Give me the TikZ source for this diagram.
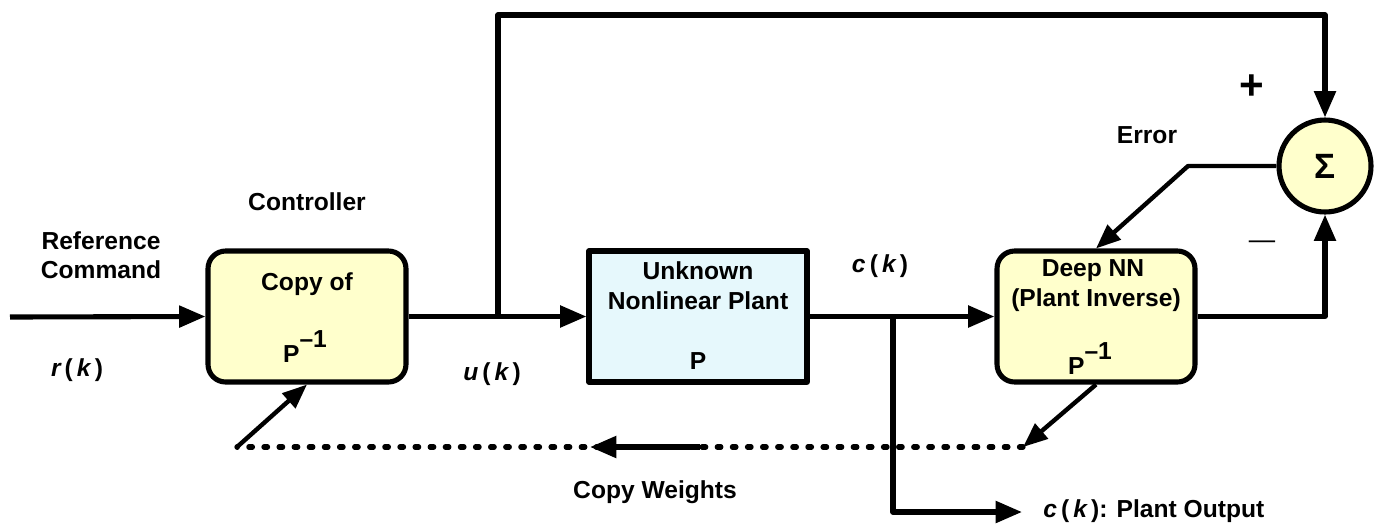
\documentclass[tikz,border=0pt]{standalone}
\usepackage{fontspec}
\setmainfont{Liberation Sans}
\usetikzlibrary{arrows.meta}
\definecolor{boxyellow}{HTML}{FFFFCC}
\definecolor{boxcyan}{HTML}{E6F8FC}
\begin{document}
\begin{tikzpicture}[x=0.02cm,y=-0.02cm,
  font=\fontsize{14}{16}\selectfont\bfseries,
  line join=round,
  wire/.style={line width=2.9pt},
  arr/.style={wire,-{Triangle[length=15pt,width=12pt]}},
  darr/.style={line width=2.5pt,-{Triangle[length=14pt,width=11pt]}},
  ybox/.style={draw,line width=2.9pt,fill=boxyellow,rounded corners=10pt,
    minimum width=3.96cm,minimum height=2.62cm,inner sep=0pt},
  cbox/.style={draw,line width=2.9pt,fill=boxcyan,
    minimum width=4.36cm,minimum height=2.62cm,inner sep=0pt},
  sumnode/.style={draw,circle,line width=2.9pt,fill=boxyellow,minimum size=1.84cm,inner sep=0pt},
  dots/.style={line width=3pt,line cap=round,dash pattern=on 2pt off 6.6pt},
  lbl/.style={anchor=base,inner sep=0pt}
]
\useasboundingbox (0,0) rectangle (1381,525);

% blocks
\node[ybox] (ctrl) at (307,316.5) {};
\node[cbox] (plant) at (698,316.5) {};
\node[ybox] (nn) at (1096,316.5) {};
\node[sumnode] (sum) at (1325,166) {};
\node (sig) at (sum.center) {\fontsize{20}{22}\selectfont Σ};

% coordinates
\coordinate (in) at (10,317);
\coordinate (j1) at (498,317);
\coordinate (tl) at (498,15);
\coordinate (tr) at (1325,15);
\coordinate (j2) at (893,317);
\coordinate (jb) at (893,512);
\coordinate (out) at (1022,512);
\coordinate (ec) at (1188,166);
\coordinate (dR) at (1023,447);
\coordinate (dL) at (237,447);
\coordinate (cwA) at (700,447);
\coordinate (cwB) at (590,447);

% connectors
\draw[arr] (in) -- (ctrl.west);
\draw[arr] (ctrl.east) -- (plant.west);
\draw[arr] (j1) -- (tl) -- (tr) -- (sum.north);
\draw[arr] (plant.east) -- (nn.west);
\draw[arr] (j2) -- (jb) -- (out);
\draw[arr] (nn.east) -| (sum.south);
\draw[darr] (sum.west) -- (ec) -- (nn.north);
\draw[darr] (nn.south) -- (dR);
\draw[dots] (dR) -- (dL);
\draw[arr] (cwA) -- (cwB);
\draw[darr] (dL) -- (ctrl.south);

% texts
\node[lbl] (t1) at (307,210) {Controller};
\node[lbl] (t2) at (101,249) {Reference};
\node[lbl] (t3) at (101,278) {Command};
\node[lbl] (t4) at (307,290) {Copy of};
\node[lbl] (t5) at (305,362) {P\raisebox{8pt}{–1}};
\node[lbl] (t6) at (77,376) {\itshape r\,{\upshape(}\,k\,{\upshape)}};
\node[lbl] (t7) at (492,380) {\itshape u\,{\upshape(}\,k\,{\upshape)}};
\node[lbl] (t8) at (698,279) {Unknown};
\node[lbl] (t9) at (698,309) {Nonlinear Plant};
\node[lbl] (t10) at (698,369) {P};
\node[lbl] (t11) at (880,272) {\itshape c\,{\upshape(}\,k\,{\upshape)}};
\node[lbl] (t12) at (1093,276) {Deep NN};
\node[lbl] (t13) at (1096,306) {(Plant Inverse)};
\node[lbl] (t14) at (1090,374) {P\raisebox{8pt}{–1}};
\node[lbl] (t15) at (1147,143) {Error};
\node (t16) at (1252,87) {\fontsize{24}{26}\selectfont +};
\node (t17) at (1262,245) {\fontsize{15}{16}\selectfont\mdseries —};
\node[lbl] (t18) at (655,498) {Copy Weights};
\node[lbl,anchor=base west] (t19) at (1043,517) {{\itshape c\,{\upshape(}\,k\,{\upshape)}}: Plant Output};
\end{tikzpicture}
\end{document}
